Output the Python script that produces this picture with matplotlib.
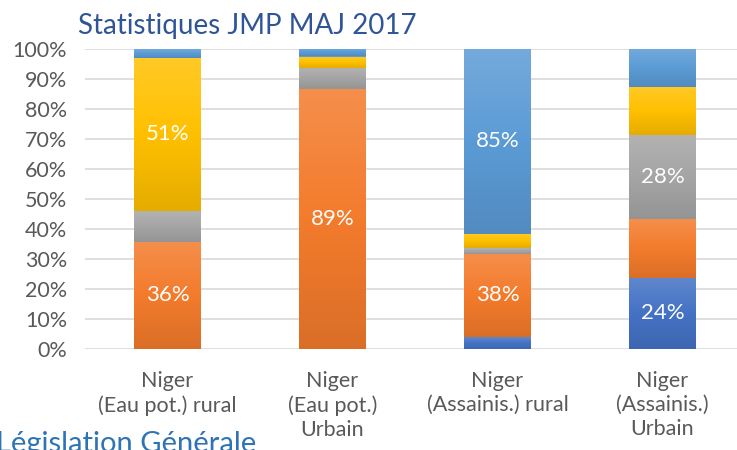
import numpy as np
import matplotlib.pyplot as plt
from matplotlib.colors import to_rgb, LinearSegmentedColormap

plt.rcParams['font.family'] = ['Lato', 'DejaVu Sans']

categories = ['Niger\n(Eau pot.) rural', 'Niger\n(Eau pot.)\nUrbain',
              'Niger\n(Assainis.) rural', 'Niger\n(Assainis.)\nUrbain']

# stacked segments, bottom to top (percent)
s_blue_dark = [0.0, 0.0, 4.0, 23.8]
s_orange = [35.8, 86.6, 27.7, 19.6]
s_gray = [10.3, 7.2, 2.0, 28.0]
s_yellow = [51.0, 3.7, 4.7, 15.8]
s_blue_light = [2.9, 2.5, 61.6, 12.8]

# label text shown in the middle of some segments
lab_blue_dark = [None, None, None, '24%']
lab_orange = ['36%', '89%', '38%', None]
lab_gray = [None, None, None, '28%']
lab_yellow = ['51%', None, None, None]
lab_blue_light = [None, None, '85%', None]

series = [
    (s_blue_dark, lab_blue_dark, '#4472C4'),
    (s_orange, lab_orange, '#F37B2C'),
    (s_gray, lab_gray, '#A5A5A5'),
    (s_yellow, lab_yellow, '#FFC000'),
    (s_blue_light, lab_blue_light, '#5B9BD5'),
]


def shade(c, f):
    c = np.array(to_rgb(c))
    if f > 0:
        return tuple(c + (1 - c) * f)
    return tuple(c * (1 + f))


fig = plt.figure(figsize=(7.37, 4.5), dpi=100)
ax = fig.add_axes([85 / 737, 1 - 349 / 450, 660 / 737, 300 / 450])

x = np.arange(len(categories))
width = 0.406
bottom = np.zeros(len(categories))
grad = np.linspace(0, 1, 64).reshape(-1, 1)

for vals, labs, col in series:
    vals = np.array(vals)
    bars = ax.bar(x, vals, width, bottom=bottom, color=col, linewidth=0, zorder=2)
    cmap = LinearSegmentedColormap.from_list('g', [shade(col, -0.1), col, shade(col, 0.15)])
    for xi, b, v, bar in zip(x, bottom, vals, bars):
        if v <= 0:
            continue
        im = ax.imshow(grad, cmap=cmap, aspect='auto', origin='lower',
                       extent=(xi - width / 2, xi + width / 2, b, b + v), zorder=3)
        im.set_clip_path(bar)
    for xi, b, v, t in zip(x, bottom, vals, labs):
        if t:
            ax.text(xi, b + v / 2, t, ha='center', va='center', color='white',
                    fontsize=16, zorder=4)
    bottom = bottom + vals

ax.set_xlim(-0.5, 3.5)
ax.set_ylim(0, 100)
ax.set_yticks(np.arange(0, 101, 10))
ax.set_yticklabels([f'{v}%' for v in range(0, 101, 10)])
ax.set_xticks(x)
ax.set_xticklabels(categories, linespacing=1.25)
ax.grid(axis='y', color='#D9D9D9', linewidth=1.2, zorder=0)
ax.set_axisbelow(True)
for s in ax.spines.values():
    s.set_visible(False)
ax.tick_params(axis='y', length=0, pad=13, labelsize=15.5, labelcolor='#595959')
ax.tick_params(axis='x', length=0, pad=16, labelsize=15.5, labelcolor='#595959')

fig.text(78 / 737, 1 - 34 / 450, 'Statistiques JMP MAJ 2017', fontsize=20,
         color='#2F5597', va='baseline', ha='left')
fig.text(-4 / 737, 1 - 452 / 450, 'Législation Générale', fontsize=21,
         color='#2E74B5', va='baseline', ha='left')

fig.savefig('out.png', dpi=100)
